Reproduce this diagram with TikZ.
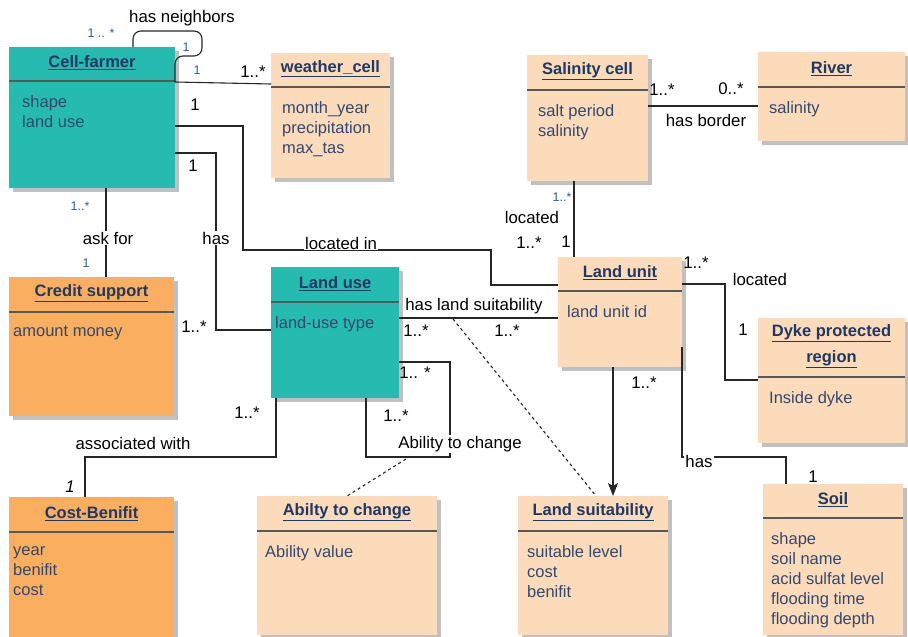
\documentclass[tikz,border=0pt]{standalone}
\usepackage{fontspec}
\setmainfont{Liberation Sans}
\usetikzlibrary{arrows.meta,shadows,calc}
\definecolor{tealc}{RGB}{38,187,176}
\definecolor{peachc}{RGB}{251,219,186}
\definecolor{orangec}{RGB}{249,174,96}
\definecolor{titlec}{RGB}{31,56,100}
\definecolor{attrc}{RGB}{52,72,110}
\definecolor{hdrc}{RGB}{88,88,88}
\definecolor{shadowc}{RGB}{192,192,192}
\definecolor{bluem}{RGB}{52,92,140}
\tikzset{
  classbox/.style={anchor=north west, inner sep=0pt, outer sep=0pt, draw=none,
    drop shadow={shadow xshift=4pt, shadow yshift=-4pt, fill=shadowc, opacity=1}},
  hdrline/.style={draw=hdrc, line width=2pt},
  titlestyle/.style={font=\fontsize{16.5}{26}\selectfont\bfseries, text=titlec, align=center, inner sep=0pt},
  attrstyle/.style={font=\fontsize{16.5}{20}\selectfont, text=attrc, align=left, inner sep=0pt, anchor=north west},
  conn/.style={draw=black!85, line width=1.1pt},
  dashconn/.style={draw=black!85, line width=1.1pt, dash pattern=on 3pt off 3pt},
  lbl/.style={font=\fontsize{16.8}{18}\selectfont, inner sep=1pt, text=black},
  wlbl/.style={lbl, fill=white},
  bmult/.style={font=\fontsize{12.5}{14}\selectfont, text=bluem, inner sep=0pt},
}
\newcommand\umlbox[8]{%
  \node[classbox, fill=#7, minimum width=#4pt, minimum height=#5pt] (#1) at (#2,#3) {};
  \draw[hdrline] ($(#1.north west)+(0,#6)$) -- ($(#1.north east)+(0,#6)$);
  \node[titlestyle] (#1-t) at ($(#1.north)+(0,#6/2-1)$) {#8};
}
\newcommand\umlattr[4]{%
  \node[attrstyle] (#1-a) at ($(#1.north west)+(#2,#3)$) {#4};
}
\begin{document}
\begin{tikzpicture}[x=1pt,y=-1pt]
\useasboundingbox[fill=white] (0,0) rectangle (908,637);

% classes
\umlbox{cf}{9}{47}{166}{141}{34}{tealc}{\underline{Cell-farmer}}
\umlattr{cf}{13}{48}{shape\\land use}
\umlbox{wc}{271}{53}{119}{125}{34}{peachc}{\underline{weather\_cell}}
\umlattr{wc}{11}{48}{month\_year\\precipitation\\max\_tas}
\umlbox{sc}{527}{55}{121}{126}{35}{peachc}{\underline{Salinity cell}}
\umlattr{sc}{11}{49}{salt period\\salinity}
\umlbox{rv}{758}{52}{147}{89}{35}{peachc}{\underline{River}}
\umlattr{rv}{11}{49}{salinity}
\umlbox{lu}{558}{257}{124}{110}{34}{peachc}{\underline{Land unit}}
\umlattr{lu}{9}{48}{land unit id}
\umlbox{dk}{758}{318}{147}{125}{59}{peachc}{\underline{Dyke protected}\\\underline{region}}
\umlattr{dk}{11}{73}{Inside dyke}
\umlbox{so}{763}{484}{140}{151}{34}{peachc}{\underline{Soil}}
\umlattr{so}{8}{48}{shape\\soil name\\acid sulfat level\\flooding time\\flooding depth}
\umlbox{ls}{518}{496}{150}{139}{35}{peachc}{\underline{Land suitability}}
\umlattr{ls}{9}{49}{suitable level\\cost\\benifit}
\umlbox{ab}{257}{496}{180}{139}{35}{peachc}{\underline{Abilty to change}}
\umlattr{ab}{8}{49}{Ability value}
\umlbox{cb}{9}{497}{165}{140}{35}{orangec}{\underline{Cost-Benifit}}
\umlattr{cb}{4}{49}{year\\benifit\\cost}
\umlbox{cs}{9}{277}{165}{139}{35}{orangec}{\underline{Credit support}}
\umlattr{cs}{4}{49}{amount money}
\umlbox{lus}{271}{267}{128}{131}{35}{tealc}{\underline{Land use}}
\umlattr{lus}{4}{49}{land-use type}

% connectors
\draw[conn, rounded corners=8pt] ($(cf.north west)+(124,0)$) -- (133,31) -- (202,31) -- (202,56) -- (175,56) -- (cf.east |- 0,82);
\draw[conn] (cf.east |- 0,82) -- (wc.west |- 0,84);
\draw[conn] (cf.east |- 0,126) -| (243,250) -| (491,285) -- (lu.west |- 0,285);
\draw[conn] (cf.east |- 0,153) -| (216,330) -- (lus.west |- 0,330);
\draw[conn] (cf.south -| 106,0) -- (cs.north -| 106,0);
\draw[conn] (sc.east |- 0,106) -- (rv.west |- 0,106);
\draw[conn] (sc.south -| 574,0) -- (lu.north -| 574,0);
\draw[conn] (lus.east |- 0,318) -- (lu.west |- 0,318);
\coordinate (dsA) at (453,319);
\draw[dashconn] (dsA) -- (ls.north -| 596,0);
\draw[conn, -{Stealth[length=13pt,width=10pt,inset=3pt]}] (lu.south -| 613,0) -- (ls.north -| 613,0);
\draw[conn] (lu.east |- 0,284) -| (725,380) -- (dk.west |- 0,380);
\draw[conn] (lu.east |- 0,347) |- (786,457) -- (so.north -| 786,0);
\draw[conn] (lus.south -| 276,0) |- (85,457) -- (cb.north -| 85,0);
\draw[conn] (lus.east |- 0,362) -| (450,457) -| (lus.south -| 366,0);
\coordinate (dsB) at (406,459);
\draw[dashconn] (dsB) -- (ab.north -| 347,0);

% labels
\node[lbl] (n1) at (182,18) {has neighbors};
\node[bmult] (n2) at (101,33) {1 .. *};
\node[bmult] (n3) at (186,47) {1};
\node[bmult] (n4) at (197,70) {1};
\node[lbl] (n5) at (253,72) {1..*};
\node[lbl] (n6) at (195,105) {1};
\node[lbl] (n7) at (193,166) {1};
\node[bmult] (n8) at (80,206) {1..*};
\node[wlbl] (n9) at (108,238) {ask for};
\node[wlbl] (n10) at (216,238) {has};
\node[wlbl] (n11) at (341,243) {located in};
\node[bmult] (n12) at (86,263) {1};
\node[lbl] (n13) at (194,327) {1..*};
\node[lbl] (n14) at (662,90) {1..*};
\node[lbl] (n15) at (731,89) {0..*};
\node[lbl] (n16) at (706,120) {has border};
\node[bmult] (n17) at (562,197) {1..*};
\node[lbl] (n18) at (532,217) {located};
\node[lbl] (n19) at (566,242) {1};
\node[lbl] (n20) at (529,243) {1..*};
\node[lbl] (n21) at (696,263) {1..*};
\node[lbl] (n22) at (760,279) {located};
\node[lbl] (n23) at (743,330) {1};
\node[lbl] (n24) at (474,306) {has land suitability};
\node[lbl] (n25) at (416,331) {1..*};
\node[lbl] (n26) at (507,331) {1..*};
\node[lbl] (n27) at (644,383) {1..*};
\node[lbl] (n28) at (415,373) {1.. *};
\node[lbl] (n29) at (396,416) {1..*};
\node[wlbl] (n30) at (460,444) {Ability to change};
\node[lbl] (n31) at (247,413) {1..*};
\node[lbl] (n32) at (133,443) {associated with};
\node[lbl, font=\fontsize{16.8}{18}\selectfont\itshape] (n33) at (70,487) {1};
\node[wlbl] (n34) at (699,461) {has};
\node[lbl] (n35) at (813,477) {1};
\end{tikzpicture}
\end{document}
